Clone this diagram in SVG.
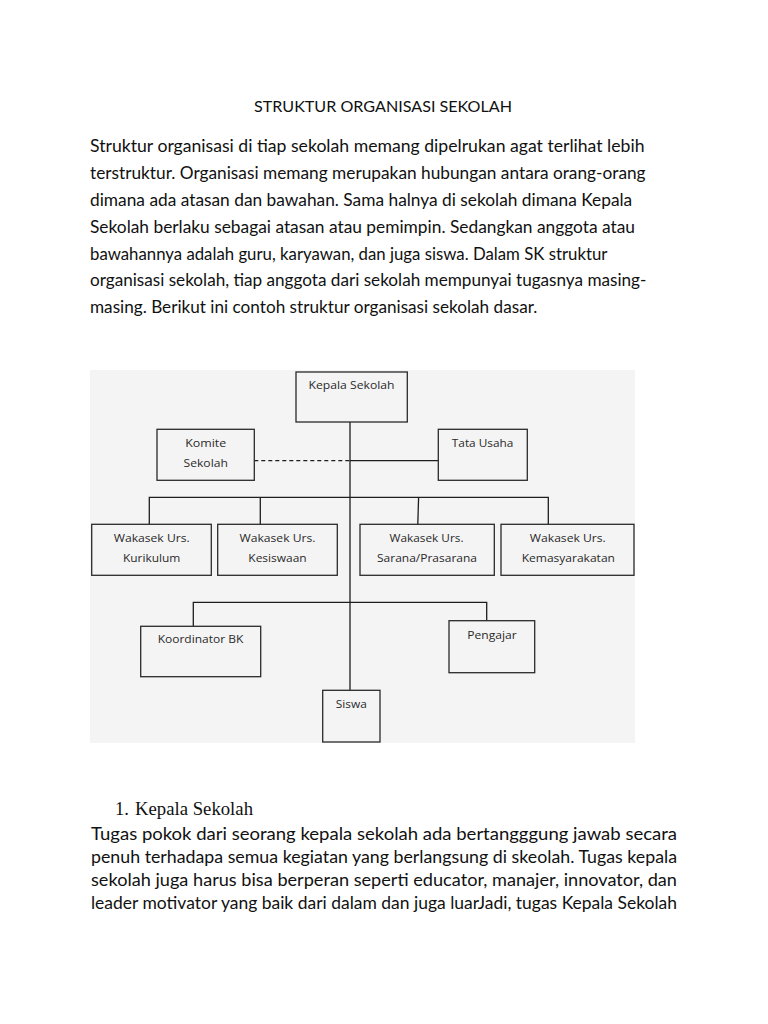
<svg xmlns="http://www.w3.org/2000/svg" width="768" height="1024" viewBox="0 0 768 1024">
<style>
.title{font-family:Lato,"Open Sans","Liberation Sans",sans-serif;font-size:15px;fill:#111}
.p1{font-family:Lato,"Open Sans","Liberation Sans",sans-serif;font-size:18px;fill:#111}
.p2{font-family:Lato,"Open Sans","Liberation Sans",sans-serif;font-size:17px;fill:#111}
.serif{font-family:"Liberation Serif","DejaVu Serif",serif;font-size:18.5px;fill:#111}
.box{fill:#f4f4f4;stroke:#2a2a2a;stroke-width:1.3}
.lbl{font-family:"Open Sans","DejaVu Sans",sans-serif;font-size:11.5px;fill:#2a2a2a;text-anchor:middle}
.ln{fill:none;stroke:#1e1e1e;stroke-width:1.3}
.dash{fill:none;stroke:#1e1e1e;stroke-width:1.3;stroke-dasharray:4 3}
</style>
<rect width="768" height="1024" fill="#ffffff"/>

<text class="title" x="254" y="111.7" textLength="258" lengthAdjust="spacingAndGlyphs">STRUKTUR ORGANISASI SEKOLAH</text>

<g id="intro">
<text class="p1" x="90" y="152.3" textLength="554.5" lengthAdjust="spacingAndGlyphs">Struktur organisasi di tiap sekolah memang dipelrukan agat terlihat lebih</text>
<text class="p1" x="90" y="179.1" textLength="555.6" lengthAdjust="spacingAndGlyphs">terstruktur. Organisasi memang merupakan hubungan antara orang-orang</text>
<text class="p1" x="90" y="205.9" textLength="542.2" lengthAdjust="spacingAndGlyphs">dimana ada atasan dan bawahan. Sama halnya di sekolah dimana Kepala</text>
<text class="p1" x="90" y="232.7" textLength="545" lengthAdjust="spacingAndGlyphs">Sekolah berlaku sebagai atasan atau pemimpin. Sedangkan anggota atau</text>
<text class="p1" x="90" y="259.5" textLength="517.4" lengthAdjust="spacingAndGlyphs">bawahannya adalah guru, karyawan, dan juga siswa. Dalam SK struktur</text>
<text class="p1" x="90" y="286.3" textLength="556.4" lengthAdjust="spacingAndGlyphs">organisasi sekolah, tiap anggota dari sekolah mempunyai tugasnya masing-</text>
<text class="p1" x="90" y="313" textLength="447.3" lengthAdjust="spacingAndGlyphs">masing. Berikut ini contoh struktur organisasi sekolah dasar.</text>
</g>

<rect x="90" y="370" width="545" height="373" fill="#f4f4f4"/>

<g id="connectors">
<line class="ln" x1="350" y1="422" x2="350" y2="690.3"/>
<line class="dash" x1="254.3" y1="460.7" x2="350" y2="460.7"/>
<line class="ln" x1="350" y1="460.7" x2="438.3" y2="460.7"/>
<polyline class="ln" points="149.3,524.3 149.3,497.3 548.3,497.3 548.3,524.3"/>
<line class="ln" x1="260.3" y1="497.3" x2="260.3" y2="524.3"/>
<line class="ln" x1="418.6" y1="497.3" x2="417.8" y2="524.3"/>
<polyline class="ln" points="193.3,626.3 193.3,602.3 486.7,602.3 486.7,620.7"/>
</g>

<g id="kepala-sekolah">
<rect class="box" x="296" y="372" width="111.3" height="50"/>
<text class="lbl" x="351.5" y="389" textLength="86" lengthAdjust="spacingAndGlyphs">Kepala Sekolah</text>
</g>
<g id="komite-sekolah">
<rect class="box" x="157" y="429.3" width="97.3" height="51"/>
<text class="lbl" x="205.7" y="446.7" textLength="41" lengthAdjust="spacingAndGlyphs">Komite</text>
<text class="lbl" x="205.7" y="467.3" textLength="44.3" lengthAdjust="spacingAndGlyphs">Sekolah</text>
</g>
<g id="tata-usaha">
<rect class="box" x="438.3" y="429.3" width="89" height="51"/>
<text class="lbl" x="482.6" y="446.7" textLength="61.6" lengthAdjust="spacingAndGlyphs">Tata Usaha</text>
</g>
<g id="wakasek-kurikulum">
<rect class="box" x="91.7" y="524.3" width="119.6" height="51"/>
<text class="lbl" x="151.7" y="541.7" textLength="76" lengthAdjust="spacingAndGlyphs">Wakasek Urs.</text>
<text class="lbl" x="151.7" y="562.3" textLength="57.3" lengthAdjust="spacingAndGlyphs">Kurikulum</text>
</g>
<g id="wakasek-kesiswaan">
<rect class="box" x="217.7" y="524.3" width="119.6" height="51"/>
<text class="lbl" x="277.5" y="541.7" textLength="76" lengthAdjust="spacingAndGlyphs">Wakasek Urs.</text>
<text class="lbl" x="277.5" y="562.3" textLength="58.3" lengthAdjust="spacingAndGlyphs">Kesiswaan</text>
</g>
<g id="wakasek-sarana">
<rect class="box" x="360" y="524.3" width="134.3" height="51"/>
<text class="lbl" x="426.5" y="541.7" textLength="74" lengthAdjust="spacingAndGlyphs">Wakasek Urs.</text>
<text class="lbl" x="427" y="562.3" textLength="100" lengthAdjust="spacingAndGlyphs">Sarana/Prasarana</text>
</g>
<g id="wakasek-kemasyarakatan">
<rect class="box" x="501" y="524.3" width="133" height="51"/>
<text class="lbl" x="567.8" y="541.7" textLength="76" lengthAdjust="spacingAndGlyphs">Wakasek Urs.</text>
<text class="lbl" x="568.3" y="562.3" textLength="93.3" lengthAdjust="spacingAndGlyphs">Kemasyarakatan</text>
</g>
<g id="koordinator-bk">
<rect class="box" x="140.7" y="626.3" width="120" height="50.4"/>
<text class="lbl" x="200.5" y="643.3" textLength="85.6" lengthAdjust="spacingAndGlyphs">Koordinator BK</text>
</g>
<g id="pengajar">
<rect class="box" x="449" y="620.7" width="85.7" height="52"/>
<text class="lbl" x="492" y="639.3" textLength="49.4" lengthAdjust="spacingAndGlyphs">Pengajar</text>
</g>
<g id="siswa">
<rect class="box" x="322.7" y="690.3" width="57.3" height="51.7"/>
<text class="lbl" x="351.3" y="708.3" textLength="31" lengthAdjust="spacingAndGlyphs">Siswa</text>
</g>

<g id="section-1">
<text class="serif" x="115" y="815">1.</text>
<text class="serif" x="135" y="815" textLength="118" lengthAdjust="spacingAndGlyphs">Kepala Sekolah</text>
<text class="p2" x="91" y="839.5" textLength="586" lengthAdjust="spacingAndGlyphs">Tugas pokok dari seorang kepala sekolah ada bertangggung jawab secara</text>
<text class="p2" x="91" y="862.5" textLength="586" lengthAdjust="spacingAndGlyphs">penuh terhadapa semua kegiatan yang berlangsung di skeolah. Tugas kepala</text>
<text class="p2" x="91" y="885.5" textLength="586" lengthAdjust="spacingAndGlyphs">sekolah juga harus bisa berperan seperti educator, manajer, innovator, dan</text>
<text class="p2" x="91" y="908.5" textLength="586" lengthAdjust="spacingAndGlyphs">leader motivator yang baik dari dalam dan juga luarJadi, tugas Kepala Sekolah</text>
</g>
</svg>
